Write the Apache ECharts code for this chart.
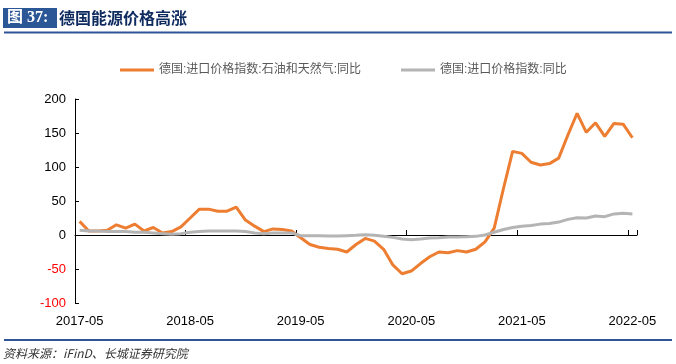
<!DOCTYPE html>
<html>
<head>
<meta charset="utf-8">
<script src="https://cdn.jsdelivr.net/npm/echarts@6/dist/echarts.min.js"></script>
<style>html,body{margin:0;padding:0;background:#fff}#c{width:676px;height:364px}</style>
</head>
<body>
<div id="c"></div>
<script>
var months = ['2017-05','2017-06','2017-07','2017-08','2017-09','2017-10','2017-11','2017-12',
'2018-01','2018-02','2018-03','2018-04','2018-05','2018-06','2018-07','2018-08','2018-09','2018-10','2018-11','2018-12',
'2019-01','2019-02','2019-03','2019-04','2019-05','2019-06','2019-07','2019-08','2019-09','2019-10','2019-11','2019-12',
'2020-01','2020-02','2020-03','2020-04','2020-05','2020-06','2020-07','2020-08','2020-09','2020-10','2020-11','2020-12',
'2021-01','2021-02','2021-03','2021-04','2021-05','2021-06','2021-07','2021-08','2021-09','2021-10','2021-11','2021-12',
'2022-01','2022-02','2022-03','2022-04','2022-05'];
var oilGas = [20,6,6,7,15,10,16,6,11,3,5,12,25,38,38,35,35,41,22,13,5,9,8,6,-4,-14,-18,-20,-21,-25,-14,-5,-9,-21,-44,-57,-53,-42,-32,-25,-26,-23,-25,-21,-10,10,68,123,120,107,103,105,113,147,179,151,165,145,164,163,143];
var importAll = [7,6,6,5,5,5,4,4,3,2,1,2,4,5,6,6,6,6,5,3,2,3,3,3,-1,-1,-1,-1.5,-1.5,-1,-0.5,0.5,-0.5,-2,-3.5,-6,-7,-6,-4.5,-4,-3,-3,-2.5,-2,0,4,8,11,13,14,16,17,19,23,25.5,25,28,27,31,32,31];
var seriesNames = ['德国:进口价格指数:石油和天然气:同比','德国:进口价格指数:同比'];
var yTicks = {min:-100, max:200, interval:50};

var chart = echarts.init(document.getElementById('c'), null, {renderer:'canvas'});
var cjk = '"Liberation Sans","Noto Sans CJK SC",sans-serif';
chart.setOption({
  animation:false,
  backgroundColor:'#fff',
  grid:{left:75, right:39, top:99, bottom:61},
  legend:{
    left:115, top:59, itemWidth:34, itemHeight:3, itemGap:40, icon:'rect',
    textStyle:{fontSize:12, color:'#595959', fontFamily:cjk},
    data:seriesNames
  },
  xAxis:[{
    type:'category', data:months, boundaryGap:true,
    axisLine:{onZero:true, lineStyle:{color:'#000', width:1}},
    axisTick:{show:true, inside:true, length:5, interval:11, lineStyle:{color:'#000'}},
    axisLabel:{show:false}, splitLine:{show:false}
  },{
    type:'category', data:months, boundaryGap:true, position:'bottom',
    axisLine:{show:false, onZero:false}, axisTick:{show:false},
    axisLabel:{interval:11, margin:12, fontSize:13, color:'#000', fontFamily:'"Liberation Sans",Arial,sans-serif'},
    splitLine:{show:false}
  }],
  yAxis:{
    type:'value', min:yTicks.min, max:yTicks.max, interval:yTicks.interval,
    axisLine:{show:true, lineStyle:{color:'#000', width:1}},
    axisTick:{show:true, inside:true, length:4, lineStyle:{color:'#000'}},
    axisLabel:{fontSize:13, margin:9, fontFamily:'"Liberation Sans",Arial,sans-serif',
      color:function(v){return Number(v) < 0 ? '#ff0000' : '#000';}},
    splitLine:{show:false}
  },
  series:[{
    name:seriesNames[0], type:'line', data:oilGas, xAxisIndex:0, symbol:'none',
    lineStyle:{color:'#ED7D31', width:3}, itemStyle:{color:'#ED7D31'}
  },{
    name:seriesNames[1], type:'line', data:importAll, xAxisIndex:0, symbol:'none',
    lineStyle:{color:'#B4B4B4', width:3}, itemStyle:{color:'#B4B4B4'}
  }],
  graphic:[
    {type:'rect', shape:{x:3, y:8, width:54, height:20}, style:{fill:'#2B5797'}},
    {type:'text', x:7, y:18, style:{text:'图 37:', fill:'#fff', font:'bold 16px "Liberation Serif","Noto Sans CJK SC",serif', verticalAlign:'middle'}},
    {type:'text', x:59, y:18, style:{text:'德国能源价格高涨', fill:'#0E2A5F', font:'bold 16px "Noto Sans CJK SC",sans-serif', verticalAlign:'middle'}},
    {type:'line', shape:{x1:4, y1:32.5, x2:672, y2:32.5}, style:{stroke:'#2E5597', lineWidth:2}},
    {type:'line', shape:{x1:4, y1:340, x2:672, y2:340}, style:{stroke:'#2E5597', lineWidth:2}},
    {type:'text', x:3, y:353, style:{text:'资料来源：iFinD、长城证券研究院', fill:'#333', font:'italic 12px "Noto Sans CJK SC",sans-serif', verticalAlign:'middle'}}
  ]
});
</script>
</body>
</html>
